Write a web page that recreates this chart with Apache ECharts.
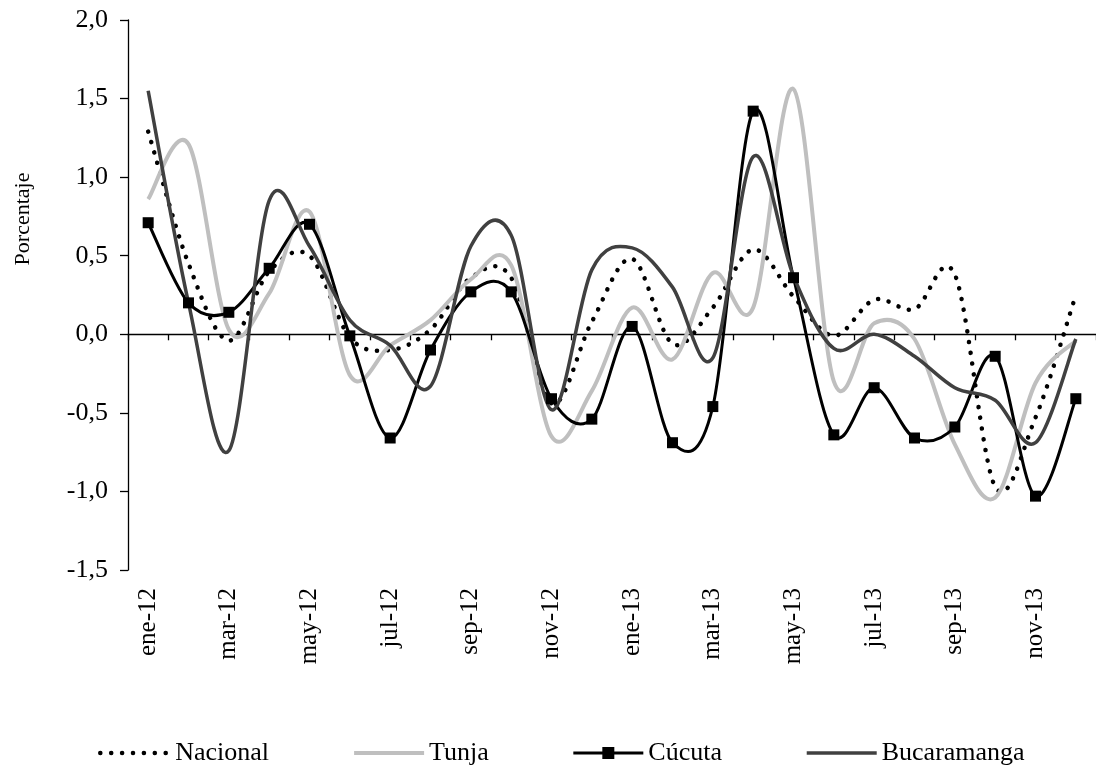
<!DOCTYPE html>
<html>
<head>
<meta charset="utf-8">
<script src="https://cdn.jsdelivr.net/npm/echarts@6/dist/echarts.min.js"></script>
<style>html,body{margin:0;padding:0;background:#fff}#c{width:1096px;height:769px}</style>
</head>
<body>
<div id="c"></div>
<script>
const categories = ['ene-12','feb-12','mar-12','abr-12','may-12','jun-12','jul-12','ago-12','sep-12','oct-12','nov-12','dic-12',
  'ene-13','feb-13','mar-13','abr-13','may-13','jun-13','jul-13','ago-13','sep-13','oct-13','nov-13','dic-13'];
const nacional = [1.29,0.45,-0.04,0.40,0.50,-0.02,-0.10,0.03,0.36,0.36,-0.44,0.08,0.48,-0.06,0.17,0.54,0.24,-0.01,0.22,0.16,0.38,-0.97,-0.53,0.25];
const tunja = [0.86,1.21,0.03,0.26,0.78,-0.26,-0.07,0.09,0.35,0.44,-0.65,-0.36,0.17,-0.16,0.39,0.17,1.56,-0.30,0.07,-0.03,-0.70,-1.04,-0.31,-0.04];
const cucuta = [0.71,0.20,0.14,0.42,0.70,-0.01,-0.66,-0.10,0.27,0.27,-0.41,-0.54,0.05,-0.69,-0.46,1.42,0.36,-0.64,-0.34,-0.66,-0.59,-0.14,-1.03,-0.41];
const bucaramanga = [1.55,0.20,-0.74,0.85,0.56,0.09,-0.07,-0.33,0.56,0.63,-0.48,0.41,0.55,0.30,-0.15,1.13,0.37,-0.09,0.00,-0.14,-0.34,-0.42,-0.69,-0.03];
const yTicks = {min:-1.5, max:2.0, interval:0.5};

const FONT = "'Liberation Serif', 'DejaVu Serif', serif";
const DOTS = [0.1, 10.8];

// Smoothed (Catmull-Rom / Excel-like) curve through the data, positioned via the chart's own axes
function curveSeries(vals, style) {
  return {
    type:'custom', xAxisIndex:0, yAxisIndex:0, silent:true, z:2,
    data: vals.map((v,i)=>[i,v]),
    encode:{x:0, y:1},
    renderItem:(params, api)=>{
      if (params.dataIndex !== 0) return null;
      const p = vals.map((v,i)=>api.coord([i,v]));
      const n = p.length;
      let d = 'M' + p[0][0] + ',' + p[0][1];
      for (let i = 0; i < n-1; i++) {
        const a = p[Math.max(i-1,0)], b = p[i], c = p[i+1], e = p[Math.min(i+2,n-1)];
        const c1x = b[0] + (c[0]-a[0])/6, c1y = b[1] + (c[1]-a[1])/6;
        const c2x = c[0] - (e[0]-b[0])/6, c2y = c[1] - (e[1]-b[1])/6;
        d += 'C' + c1x + ',' + c1y + ',' + c2x + ',' + c2y + ',' + c[0] + ',' + c[1];
      }
      return {type:'path', shape:{pathData:d}, style:Object.assign({fill:'none'}, style)};
    }
  };
}

const chart = echarts.init(document.getElementById('c'), null, {renderer:'canvas'});
chart.setOption({
  animation:false,
  backgroundColor:'#fff',
  tooltip:{show:false},
  grid:{left:128, top:20, width:971, height:550, containLabel:false},
  legend:{
    left:98, top:740, padding:0, itemWidth:70, itemHeight:15, itemGap:83,
    textStyle:{fontFamily:FONT, fontSize:26, color:'#000'},
    selectedMode:false,
    data:[
      {name:'Nacional', itemStyle:{opacity:0}, lineStyle:{color:'#000', width:4.5, type:DOTS, cap:'round', opacity:1}},
      {name:'Tunja', itemStyle:{opacity:0}, lineStyle:{color:'#bfbfbf', width:4, type:'solid', opacity:1}},
      {name:'Cúcuta', itemStyle:{color:'#000', opacity:1}, lineStyle:{color:'#000', width:3, type:'solid', opacity:1}},
      {name:'Bucaramanga', itemStyle:{opacity:0}, lineStyle:{color:'#404040', width:3.5, type:'solid', opacity:1}}
    ]
  },
  xAxis:[
    {type:'category', data:categories, position:'bottom', boundaryGap:true,
     axisLine:{onZero:true, lineStyle:{color:'#000', width:1.3}},
     axisTick:{show:true, interval:0, length:6, lineStyle:{color:'#000', width:1.3}},
     axisLabel:{show:false}, splitLine:{show:false}},
    {type:'category', data:categories, position:'bottom', boundaryGap:true,
     axisLine:{show:false, onZero:false}, axisTick:{show:false},
     axisLabel:{show:true, interval:1, rotate:90, margin:18, fontFamily:FONT, fontSize:25, color:'#000'},
     splitLine:{show:false}}
  ],
  yAxis:{type:'value', min:yTicks.min, max:yTicks.max, interval:yTicks.interval,
    name:'Porcentaje', nameLocation:'middle', nameGap:94,
    nameTextStyle:{fontFamily:FONT, fontSize:22, color:'#000', padding:[0,0,0,152]},
    axisLine:{show:true, lineStyle:{color:'#000', width:1.3}},
    axisTick:{show:true, length:8, lineStyle:{color:'#000', width:1.3}},
    axisLabel:{margin:20, fontFamily:FONT, fontSize:26, color:'#000',
      formatter:v=>v.toFixed(1).replace('.',',')},
    splitLine:{show:false}},
  series:[
    curveSeries(nacional, {stroke:'#000', lineWidth:4.5, lineDash:DOTS, lineCap:'round'}),
    curveSeries(tunja, {stroke:'#bfbfbf', lineWidth:4}),
    curveSeries(cucuta, {stroke:'#000', lineWidth:3}),
    curveSeries(bucaramanga, {stroke:'#404040', lineWidth:3.5}),
    {name:'Nacional', type:'line', data:nacional, symbol:'none', xAxisIndex:0, z:1,
     lineStyle:{color:'#000', width:4.5, type:DOTS, cap:'round', opacity:0}, itemStyle:{color:'#000'}},
    {name:'Tunja', type:'line', data:tunja, symbol:'none', xAxisIndex:0, z:1,
     lineStyle:{color:'#bfbfbf', width:4, opacity:0}, itemStyle:{color:'#bfbfbf'}},
    {name:'Cúcuta', type:'line', data:cucuta, symbol:'rect', symbolSize:11, showAllSymbol:true, xAxisIndex:0, z:3,
     lineStyle:{color:'#000', width:3, opacity:0}, itemStyle:{color:'#000', opacity:1}},
    {name:'Bucaramanga', type:'line', data:bucaramanga, symbol:'none', xAxisIndex:0, z:1,
     lineStyle:{color:'#404040', width:3.5, opacity:0}, itemStyle:{color:'#404040'}}
  ]
});
</script>
</body>
</html>
